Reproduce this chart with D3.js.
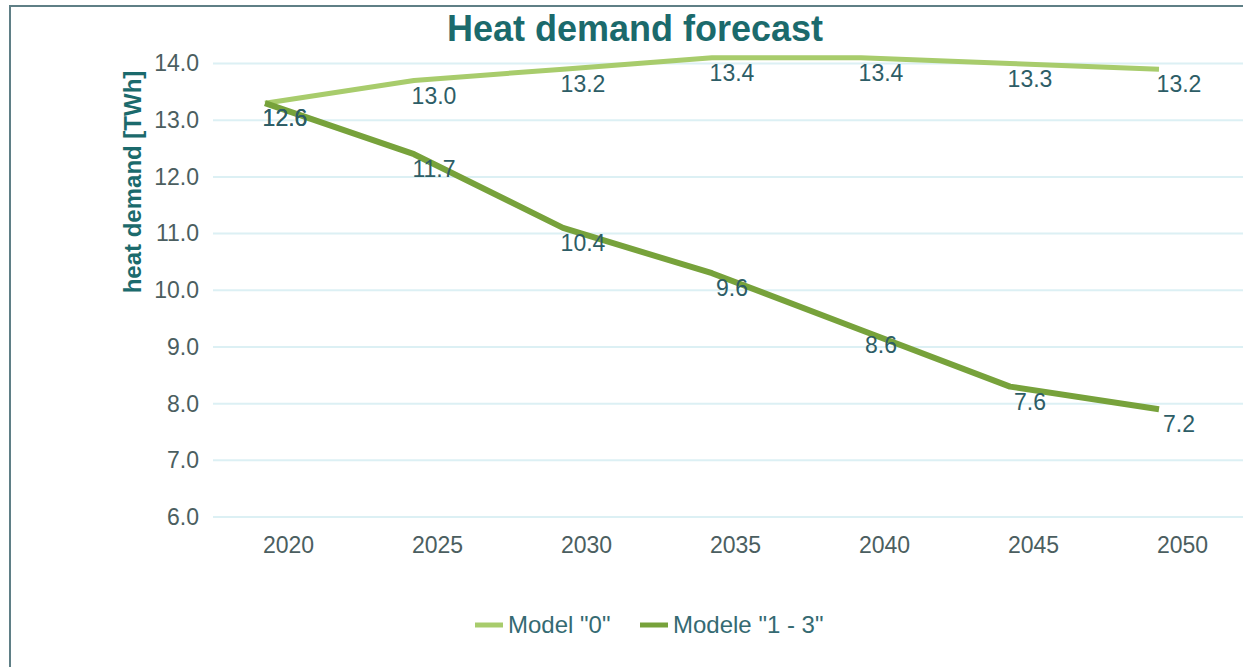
<!DOCTYPE html>
<html>
<head>
<meta charset="utf-8">
<script src="https://cdn.jsdelivr.net/npm/d3@7"></script>
<style>
  html, body { margin: 0; padding: 0; background: #ffffff; }
  svg { display: block; font-family: "Liberation Sans", Arial, sans-serif; }
</style>
</head>
<body>
<svg id="chart" width="1243" height="667"></svg>
<script>
// Heat demand forecast, TWh per year
const years = ["2020", "2025", "2030", "2035", "2040", "2045", "2050"];
const model0 = [12.6, 13.0, 13.2, 13.4, 13.4, 13.3, 13.2];
const model13 = [12.6, 11.7, 10.4, 9.6, 8.6, 7.6, 7.2];
const seriesNames = ['Model "0"', 'Modele "1 - 3"'];
const yTickLabels = ["6.0", "7.0", "8.0", "9.0", "10.0", "11.0", "12.0", "13.0", "14.0"];

const colors = ["#a8cc6c", "#77a23b"];
const widths = [5, 6];
const axisBase = 5.3;   // value sitting on the lowest gridline

const svg = d3.select("#chart");

// frame
svg.append("rect")
  .attr("x", 10).attr("y", 6)
  .attr("width", 1260).attr("height", 700)
  .attr("fill", "#ffffff")
  .attr("stroke", "#5f7f86")
  .attr("stroke-width", 2);

const x = d3.scalePoint().domain(years).range([265, 1159]);
const y = d3.scaleLinear().domain([axisBase, axisBase + 8]).range([517, 63.5]);
const tickVals = d3.range(yTickLabels.length).map(i => axisBase + i);

// gridlines
svg.append("g")
  .selectAll("line")
  .data(tickVals)
  .join("line")
  .attr("x1", 213).attr("x2", 1250)
  .attr("y1", d => y(d)).attr("y2", d => y(d))
  .attr("stroke", "#dcf0f4")
  .attr("stroke-width", 2);

// y axis
const yAxis = svg.append("g")
  .attr("transform", "translate(213,0)")
  .call(d3.axisLeft(y).tickValues(tickVals)
    .tickFormat((d, i) => yTickLabels[i]).tickSize(0).tickPadding(14));
yAxis.select(".domain").remove();
yAxis.selectAll("text")
  .attr("font-size", 23)
  .attr("font-family", "Liberation Sans, Arial, sans-serif")
  .attr("fill", "#4b5e60");

// x axis
const xAxis = svg.append("g")
  .attr("transform", "translate(0,517)")
  .call(d3.axisBottom(x).tickSize(0).tickPadding(20));
xAxis.select(".domain").remove();
xAxis.selectAll("text")
  .attr("x", 23)
  .attr("font-size", 23)
  .attr("font-family", "Liberation Sans, Arial, sans-serif")
  .attr("fill", "#4b5e60");

// lines
const series = [model0, model13];
const line = d3.line()
  .x((d, i) => x(years[i]))
  .y(d => y(d))
  .curve(d3.curveLinear);

svg.append("g")
  .selectAll("path")
  .data(series)
  .join("path")
  .attr("d", d => line(d))
  .attr("fill", "none")
  .attr("stroke", (d, i) => colors[i])
  .attr("stroke-width", (d, i) => widths[i])
  .attr("stroke-linejoin", "round")
  .attr("stroke-linecap", "butt");

// value labels
series.forEach((vals, s) => {
  svg.append("g")
    .selectAll("text")
    .data(vals)
    .join("text")
    .attr("x", (d, i) => x(years[i]) + 20)
    .attr("y", d => y(d) + 15)
    .attr("dy", "0.35em")
    .attr("text-anchor", "middle")
    .attr("font-size", 23)
    .attr("fill", "#2d5d66")
    .text(d => d.toFixed(1));
});

// title
svg.append("text")
  .attr("x", 635).attr("y", 41)
  .attr("text-anchor", "middle")
  .attr("font-size", 36)
  .attr("font-weight", "bold")
  .attr("fill", "#1b6a6c")
  .text("Heat demand forecast");

// y axis title
svg.append("text")
  .attr("transform", "translate(141,182) rotate(-90)")
  .attr("text-anchor", "middle")
  .attr("font-size", 24)
  .attr("font-weight", "bold")
  .attr("fill", "#1b6a6c")
  .text("heat demand [TWh]");

// legend
const legendX = [475, 640];
const legend = svg.append("g")
  .selectAll("g")
  .data(seriesNames)
  .join("g")
  .attr("transform", (d, i) => `translate(${legendX[i]},625)`);
legend.append("line")
  .attr("x1", 0).attr("x2", 28)
  .attr("y1", 0).attr("y2", 0)
  .attr("stroke", (d, i) => colors[i])
  .attr("stroke-width", 5);
legend.append("text")
  .attr("x", 33)
  .attr("dy", "0.35em")
  .attr("font-size", 24)
  .attr("fill", "#356a72")
  .text(d => d);
</script>
</body>
</html>
